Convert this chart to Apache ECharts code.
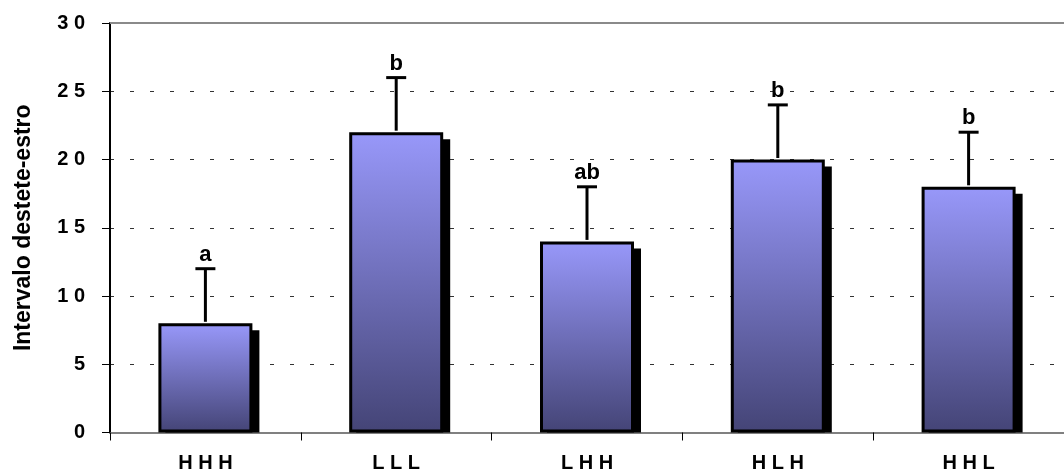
<!DOCTYPE html>
<html>
<head>
<meta charset="utf-8">
<script src="https://cdn.jsdelivr.net/npm/echarts@6/dist/echarts.min.js"></script>
<style>html,body{margin:0;padding:0;background:#fff}#c{width:1064px;height:475px}</style>
</head>
<body>
<div id="c"></div>
<script>
const categories = ['HHH', 'LLL', 'LHH', 'HLH', 'HHL'];
const means = [8, 22, 14, 20, 18];
const errors = [4, 4, 4, 4, 4];
const letters = ['a', 'b', 'ab', 'b', 'b'];
const yTicks = [0, 5, 10, 15, 20, 25, 30];

const FONT = 'bold 22px "Liberation Sans", Arial, sans-serif';
const spaced = s => String(s).split('').join(' ');

const chart = echarts.init(document.getElementById('c'));
const BAR_W = 94;

chart.setOption({
  animation: false,
  backgroundColor: '#ffffff',
  grid: { left: 110, right: -11, top: 23, bottom: 42.5, containLabel: false },
  xAxis: {
    type: 'category',
    data: categories,
    boundaryGap: true,
    axisLine: { show: true, lineStyle: { color: '#808080', width: 2 } },
    axisTick: { show: true, alignWithLabel: false, length: 8, lineStyle: { color: '#000', width: 1 } },
    axisLabel: {
      margin: 21,
      color: '#000',
      fontFamily: '"Liberation Sans", Arial, sans-serif',
      fontWeight: 'bold',
      fontSize: 20,
      formatter: v => spaced(v)
    },
    splitLine: { show: false }
  },
  yAxis: {
    type: 'value',
    min: yTicks[0],
    max: yTicks[yTicks.length - 1],
    interval: 5,
    name: 'Intervalo destete-estro',
    nameLocation: 'middle',
    nameGap: 75,
    nameRotate: 90,
    nameTextStyle: {
      color: '#000',
      fontFamily: '"Liberation Sans", Arial, sans-serif',
      fontWeight: 'bold',
      fontSize: 23
    },
    axisLine: { show: true, lineStyle: { color: '#000', width: 2 } },
    axisTick: { show: true, length: 8, lineStyle: { color: '#000', width: 1 } },
    axisLabel: {
      margin: 25,
      color: '#000',
      fontFamily: '"Liberation Sans", Arial, sans-serif',
      fontWeight: 'bold',
      fontSize: 20,
      formatter: v => spaced(v)
    },
    splitLine: { show: true, lineStyle: { color: '#333', width: 1, type: [4, 16] } }
  },
  series: [
    {
      type: 'custom',
      name: 'shadow',
      z: 1,
      data: means.map((m, i) => [i, m]),
      renderItem: (params, api) => {
        const i = api.value(0), v = api.value(1);
        const top = api.coord([i, v]);
        const base = api.coord([i, 0]);
        const off = 7;
        return {
          type: 'rect',
          shape: { x: top[0] - BAR_W / 2 + off, y: top[1] + off, width: BAR_W, height: base[1] - top[1] - off },
          style: { fill: '#000' }
        };
      }
    },
    {
      type: 'bar',
      name: 'mean',
      z: 2,
      data: means,
      barWidth: BAR_W,
      itemStyle: {
        color: new echarts.graphic.LinearGradient(0, 0, 0, 1, [
          { offset: 0, color: '#9898fa' },
          { offset: 1, color: '#444476' }
        ]),
        borderColor: '#000',
        borderWidth: 3
      },
      markLine: {
        silent: true,
        symbol: 'none',
        label: { show: false },
        lineStyle: { color: '#8a8a8a', width: 2, type: 'solid' },
        data: [{ yAxis: 30 }]
      }
    },
    {
      type: 'custom',
      name: 'error',
      z: 3,
      data: means.map((m, i) => [i, m, errors[i]]),
      renderItem: (params, api) => {
        const i = api.value(0), v = api.value(1), e = api.value(2);
        const p0 = api.coord([i, v]);
        const p1 = api.coord([i, v + e]);
        const cap = 10;
        return {
          type: 'group',
          children: [
            { type: 'line', shape: { x1: p0[0], y1: p0[1] - 1.5, x2: p1[0], y2: p1[1] }, style: { stroke: '#000', lineWidth: 3 } },
            { type: 'line', shape: { x1: p1[0] - cap, y1: p1[1], x2: p1[0] + cap, y2: p1[1] }, style: { stroke: '#000', lineWidth: 3 } },
            { type: 'text', x: p1[0], y: p1[1] - 3, style: { text: letters[params.dataIndex], textAlign: 'center', textVerticalAlign: 'bottom', font: FONT, fill: '#000' } }
          ]
        };
      }
    }
  ]
});
</script>
</body>
</html>
